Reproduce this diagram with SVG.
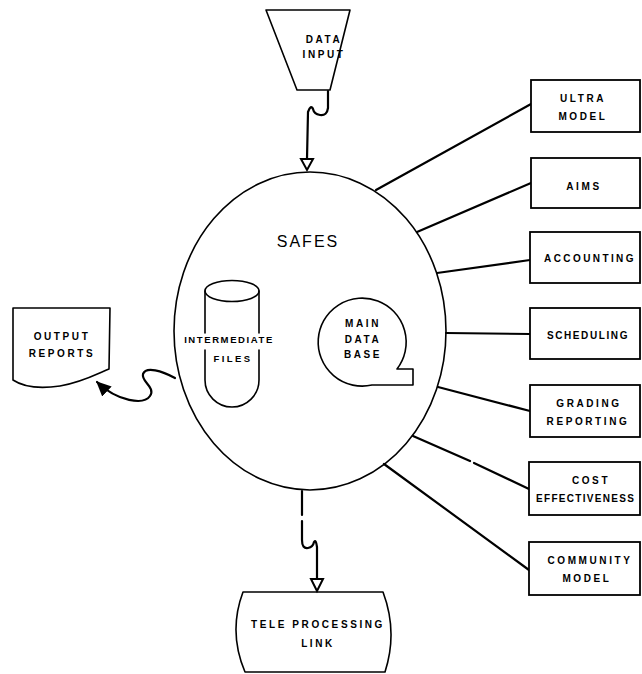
<svg xmlns="http://www.w3.org/2000/svg" width="642" height="674" viewBox="0 0 642 674">
<style>
.s{fill:none;stroke:#000;stroke-width:1.6;stroke-linejoin:round;stroke-linecap:round}
.b{fill:#fff;stroke:#000;stroke-width:1.8}
.c{fill:none;stroke:#000;stroke-width:2.2;stroke-linecap:round}
.h{fill:#fff;stroke:#000;stroke-width:2;stroke-linejoin:miter}
.t{font-family:"Liberation Sans",Arial,sans-serif;font-weight:bold;font-size:10px;letter-spacing:2.6px;text-anchor:middle;fill:#000}
.big{font-family:"Liberation Sans",Arial,sans-serif;font-size:16px;letter-spacing:2px;text-anchor:middle;fill:#000}
</style>
<defs>
<marker id="filled" viewBox="0 0 14 14" refX="12" refY="7" markerWidth="16" markerHeight="16" markerUnits="userSpaceOnUse" orient="auto">
<path d="M0,1 L13,7 L0,13 Z" fill="#000"/>
</marker>
</defs>

<g id="connectors">
<path class="c" d="M328,91 L328,108 Q327,116 320,115 Q314,114 313,109 Q311,104 308,112 L307,159"/>
<path class="h" d="M301,159 L313,159 L307,170 Z"/>
<path class="c" d="M302,491 L302,515 M302,521 L302,540 Q302,549 308,548 Q313,547 314,542 Q316,539 317,547 L317,579"/>
<path class="h" d="M311,579 L323,579 L317,591 Z"/>
<path class="c" d="M175,378 C162,371 146,366 143,374 C141,382 156,387 150,396 C144,405 118,402 97,382" marker-end="url(#filled)"/>
<line class="c" x1="376" y1="190" x2="531" y2="104"/>
<line class="c" x1="417" y1="232" x2="531" y2="183"/>
<line class="c" x1="437" y1="273" x2="530" y2="260"/>
<line class="c" x1="446" y1="333" x2="530" y2="334"/>
<line class="c" x1="438" y1="387" x2="530" y2="411"/>
<path class="c" d="M413,436 L470,461 M474,463 L529,489"/>
<line class="c" x1="384" y1="464" x2="529" y2="570"/>
</g>

<g id="data-input">
<path class="s" d="M266,10 L350,10 L330,90 L297,90 Z" fill="#fff"/>
<text class="t" x="324" y="43">DATA</text>
<text class="t" x="324" y="58">INPUT</text>
</g>

<g id="safes">
<ellipse class="s" cx="310" cy="331" rx="136" ry="159" fill="none"/>
<text class="big" x="308" y="247">SAFES</text>
</g>

<g id="intermediate-files">
<ellipse class="s" cx="232" cy="291" rx="27" ry="10.5"/>
<path class="s" d="M205,291 L205,333 M205,350 L205,380 A27,27 0 0 0 259,380 L259,350 M259,333 L259,291"/>
<text class="t" x="229" y="343" style="letter-spacing:1.6px;font-size:9.5px">INTERMEDIATE</text>
<text class="t" x="233" y="362" style="letter-spacing:2.4px;font-size:9.5px">FILES</text>
</g>

<g id="main-data-base">
<path class="s" d="M372,385 A44,44 0 1 1 397,369 L413,369 L413,385 Z"/>
<text class="t" x="363" y="327">MAIN</text>
<text class="t" x="363" y="343">DATA</text>
<text class="t" x="363" y="358">BASE</text>
</g>

<g id="output-reports">
<path class="s" d="M13,308 L110,308 L109,369 C95,375 80,383 60,386 C40,389 25,388 13,380 Z" fill="#fff"/>
<text class="t" x="62" y="340">OUTPUT</text>
<text class="t" x="62" y="357">REPORTS</text>
</g>

<g id="tele-processing-link">
<path class="s" d="M243,592 L383,592 Q398,632 385,672 L245,672 Q228,632 243,592 Z" fill="#fff"/>
<text class="t" x="318" y="628">TELE PROCESSING</text>
<text class="t" x="318" y="647">LINK</text>
</g>

<g id="ultra-model">
<rect class="b" x="531" y="80" width="109" height="52"/>
<text class="t" x="583" y="102">ULTRA</text>
<text class="t" x="583" y="120">MODEL</text>
</g>
<g id="aims">
<rect class="b" x="531" y="158" width="109" height="50"/>
<text class="t" x="584" y="190">AIMS</text>
</g>
<g id="accounting">
<rect class="b" x="530" y="232" width="110" height="51"/>
<text class="t" x="590" y="262" style="letter-spacing:2.4px">ACCOUNTING</text>
</g>
<g id="scheduling">
<rect class="b" x="530" y="308" width="110" height="51"/>
<text class="t" x="588" y="339" style="letter-spacing:1.6px">SCHEDULING</text>
</g>
<g id="grading-reporting">
<rect class="b" x="530" y="385" width="110" height="52"/>
<text class="t" x="589" y="407">GRADING</text>
<text class="t" x="588" y="425">REPORTING</text>
</g>
<g id="cost-effectiveness">
<rect class="b" x="529" y="462" width="111" height="53"/>
<text class="t" x="591" y="484">COST</text>
<text class="t" x="536" y="502" style="text-anchor:start;letter-spacing:1.3px">EFFECTIVENESS</text>
</g>
<g id="community-model">
<rect class="b" x="529" y="542" width="111" height="53"/>
<text class="t" x="590" y="564">COMMUNITY</text>
<text class="t" x="587" y="582">MODEL</text>
</g>
</svg>
